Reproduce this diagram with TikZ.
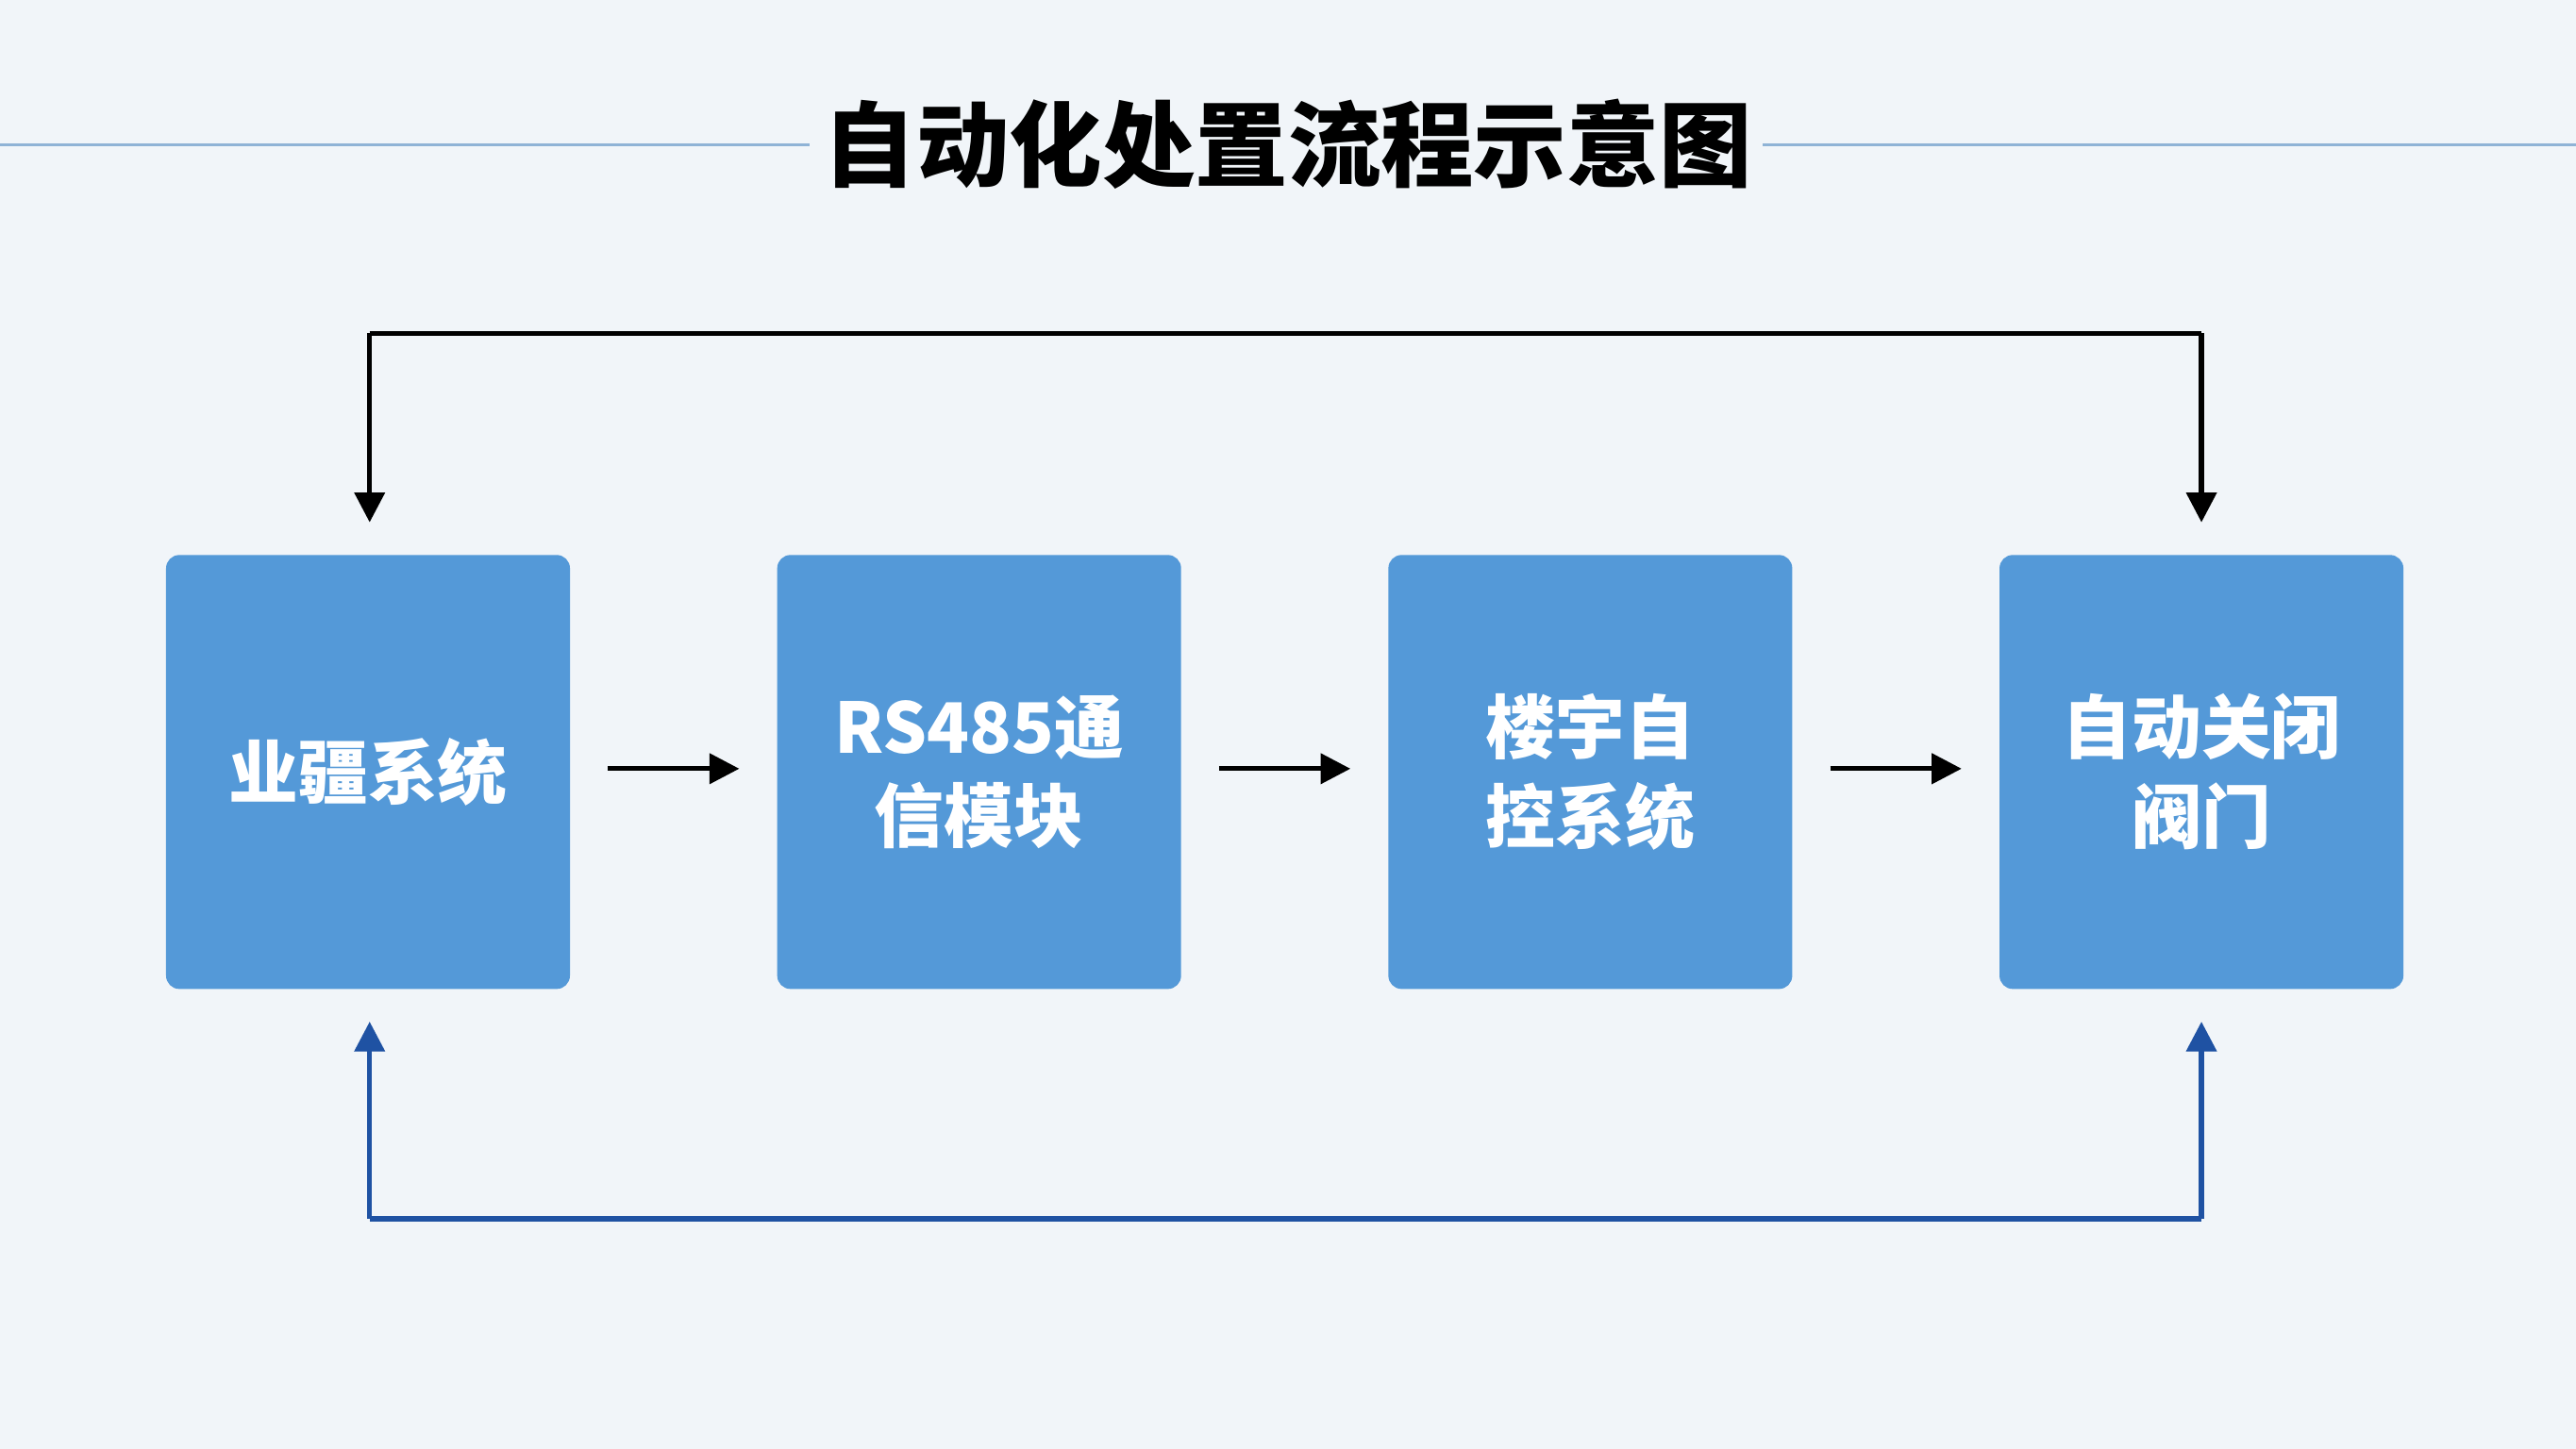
\documentclass[tikz,border=0pt]{standalone}
\usepackage{fontspec}
\newfontfamily\cjk{Noto Sans CJK SC}
\usetikzlibrary{arrows.meta}
\definecolor{boxblue}{HTML}{5499D8}
\definecolor{linkblue}{HTML}{1F52A3}
\definecolor{rulegray}{HTML}{8FB3D6}
\definecolor{bg}{HTML}{F1F5F9}
\tikzset{
  stage/.style={draw=none, fill=boxblue, rounded corners=4pt, minimum width=4.28cm, minimum height=4.6cm,
    text=white, align=center, font=\cjk\bfseries\fontsize{21}{27}\selectfont},
  flow/.style={-{Triangle[length=9pt,width=9pt]}, line width=1.5pt},
}
\begin{document}
\begin{tikzpicture}[x=0.01741cm, y=-0.01741cm]
\fill[bg] (0,0) rectangle (1568,882);
\useasboundingbox (0,0) rectangle (1568,882);
\node (title) [font=\cjk\bfseries\fontsize{28}{32}\selectfont] at (784,88) {自动化处置流程示意图};
\draw[rulegray, line width=0.8pt] (0,88) -- (493,88);
\draw[rulegray, line width=0.8pt] (1073,88) -- (1568,88);
\node (yj) [stage] at (224,470) {业疆系统};
\node (rs) [stage] at (596,470) {RS485通\\信模块};
\node (ly) [stage] at (968,470) {楼宇自\\控系统};
\node (fm) [stage] at (1340,470) {自动关闭\\阀门};
\draw[flow] (370,468) -- (450,468);
\draw[flow] (742,468) -- (822,468);
\draw[flow] (1114,468) -- (1194,468);
\coordinate (tl) at (225,203);
\coordinate (tr) at (1340,203);
\coordinate (bl) at (225,742);
\coordinate (br) at (1340,742);
\draw[flow] (tl) -- (225,318);
\draw[flow] (tr) -- (1340,318);
\draw[line width=1.5pt] (tl) -- (tr);
\draw[flow, linkblue] (bl) -- (225,622);
\draw[flow, linkblue] (br) -- (1340,622);
\draw[line width=1.5pt, linkblue] (bl) -- (br);
\end{tikzpicture}
\end{document}
